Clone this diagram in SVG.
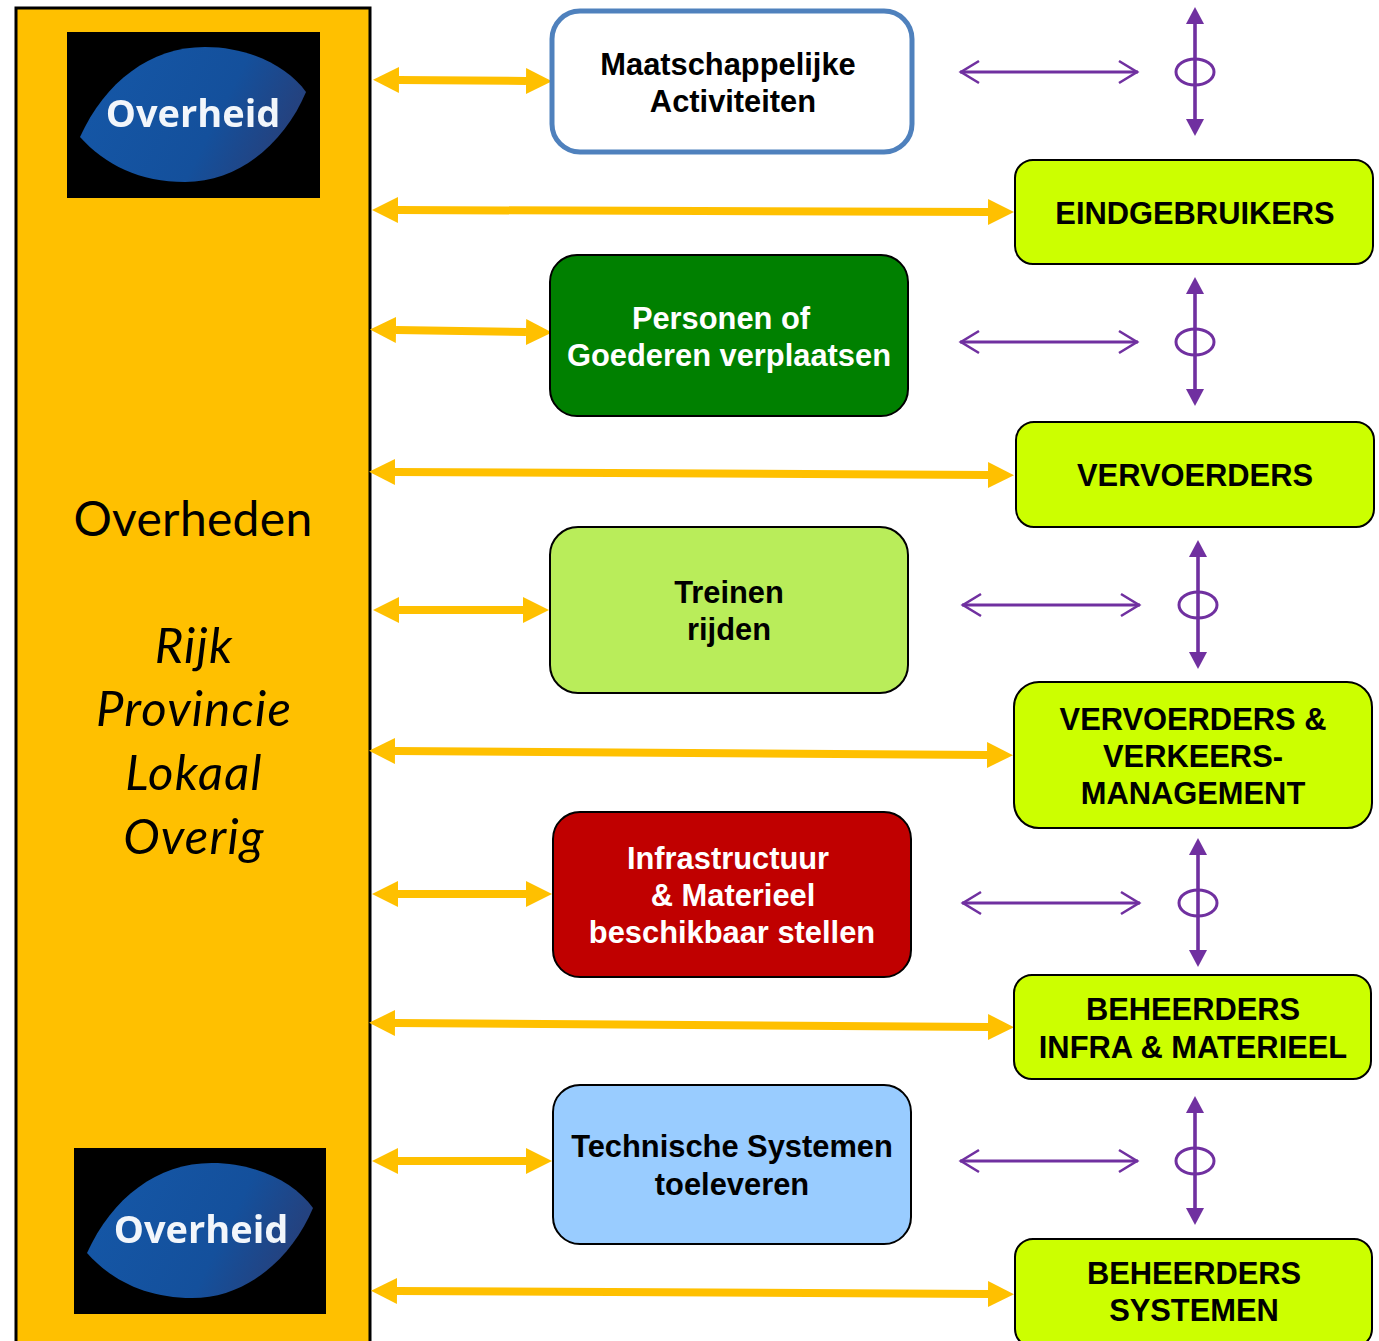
<svg xmlns="http://www.w3.org/2000/svg" width="1379" height="1341" viewBox="0 0 1379 1341">
<style>
.b{font-family:"Liberation Sans",Arial,sans-serif;font-weight:700;font-size:30.85px;text-anchor:middle;fill:#000}
.w{fill:#fff}
.g{fill:#ccff00;stroke:#000;stroke-width:2}
.o{stroke:#ffc000;stroke-width:8;fill:none;marker-start:url(#oh);marker-end:url(#oh)}
.p{stroke:#7030a0;stroke-width:3;fill:none}
.h{marker-start:url(#po);marker-end:url(#po)}
.v{stroke-width:3.6;marker-start:url(#pf);marker-end:url(#pf)}
.c{font-family:Lato,"Open Sans",sans-serif;font-size:48px;letter-spacing:.3px;text-anchor:middle;fill:#000}
.i{font-style:italic;font-size:49px;letter-spacing:1.2px}
.l{font-family:"Open Sans","Noto Sans",sans-serif;font-weight:700;font-size:38px;text-anchor:middle;fill:#f2f6fb;filter:url(#soft)}
</style>
<defs>
<filter id="soft" x="-5%" y="-10%" width="110%" height="120%"><feGaussianBlur stdDeviation="0.7"/></filter>
<marker id="oh" markerUnits="userSpaceOnUse" markerWidth="27" markerHeight="28" refX="0" refY="14" orient="auto-start-reverse"><path d="M0 1L26 14L0 27Z" fill="#ffc000"/></marker>
<marker id="po" markerUnits="userSpaceOnUse" markerWidth="24" markerHeight="28" refX="20" refY="14" orient="auto-start-reverse"><path d="M1 3L19 14L1 25" fill="none" stroke="#7030a0" stroke-width="2.6"/></marker>
<marker id="pf" markerUnits="userSpaceOnUse" markerWidth="19" markerHeight="20" refX="0" refY="9" orient="auto-start-reverse"><path d="M0 0L17 9L0 18Z" fill="#7030a0"/></marker>
<linearGradient id="lg" x1="0" y1="0" x2="1" y2="0.3"><stop offset="0" stop-color="#1558a8"/><stop offset="0.7" stop-color="#14509c"/><stop offset="1" stop-color="#24427f"/></linearGradient>
<path id="leaf" d="M0 90C25 35 70 0 125 0C170 0 208 20 226 45C205 95 160 135 105 135C60 135 25 118 0 90Z" fill="url(#lg)"/>
</defs>
<rect width="1379" height="1341" fill="#fff"/>
<g id="overheden">
<path d="M16 1345V8H370V1345" fill="#ffc000" stroke="#000" stroke-width="3"/>
<text class="c" x="193" y="536">Overheden</text>
<text class="c i" x="194" y="663">Rijk</text>
<text class="c i" x="194" y="726">Provincie</text>
<text class="c i" x="194" y="790">Lokaal</text>
<text class="c i" x="194" y="854">Overig</text>
</g>
<g id="logo-top">
<rect x="67" y="32" width="253" height="166" fill="#000"/>
<use href="#leaf" x="80" y="47"/>
<text class="l" x="193" y="127">Overheid</text>
</g>
<g id="logo-bottom">
<rect x="74" y="1148" width="252" height="166" fill="#000"/>
<use href="#leaf" x="87" y="1163"/>
<text class="l" x="201" y="1243">Overheid</text>
</g>
<g id="connectors">
<line class="o" x1="399" y1="80" x2="526" y2="81"/>
<line class="o" x1="398" y1="210" x2="988" y2="212"/>
<line class="o" x1="396" y1="330" x2="526" y2="332"/>
<line class="o" x1="395" y1="472" x2="988" y2="475"/>
<line class="o" x1="399" y1="610" x2="523" y2="610"/>
<line class="o" x1="395" y1="751" x2="987" y2="755"/>
<line class="o" x1="398" y1="894" x2="526" y2="894"/>
<line class="o" x1="395" y1="1023" x2="988" y2="1027"/>
<line class="o" x1="398" y1="1161" x2="526" y2="1161"/>
<line class="o" x1="397" y1="1291" x2="988" y2="1294"/>
<line class="p h" x1="960" y1="72" x2="1138" y2="72"/>
<line class="p h" x1="960" y1="342" x2="1138" y2="342"/>
<line class="p h" x1="962" y1="605" x2="1140" y2="605"/>
<line class="p h" x1="962" y1="903" x2="1140" y2="903"/>
<line class="p h" x1="960" y1="1161" x2="1138" y2="1161"/>
<g class="p">
<line class="v" x1="1195" y1="24" x2="1195" y2="119"/><ellipse cx="1195" cy="72" rx="19" ry="13"/>
<line class="v" x1="1195" y1="294" x2="1195" y2="389"/><ellipse cx="1195" cy="342" rx="19" ry="13"/>
<line class="v" x1="1198" y1="557" x2="1198" y2="652"/><ellipse cx="1198" cy="605" rx="19" ry="13"/>
<line class="v" x1="1198" y1="855" x2="1198" y2="950"/><ellipse cx="1198" cy="903" rx="19" ry="13"/>
<line class="v" x1="1195" y1="1113" x2="1195" y2="1208"/><ellipse cx="1195" cy="1161" rx="19" ry="13"/>
</g>
</g>
<g id="maatschappelijke">
<rect x="552" y="11" width="360" height="141" rx="28" fill="#fff" stroke="#4f81bd" stroke-width="5"/>
<text class="b" x="728" y="75">Maatschappelijke</text><text class="b" x="733" y="112">Activiteiten</text>
</g>
<g id="personen">
<rect x="550" y="255" width="358" height="161" rx="27" fill="#008000" stroke="#000" stroke-width="2"/>
<text class="b w" x="721" y="329">Personen of</text><text class="b w" x="729" y="366">Goederen verplaatsen</text>
</g>
<g id="treinen">
<rect x="550" y="527" width="358" height="166" rx="28" fill="#b9ed5a" stroke="#000" stroke-width="2"/>
<text class="b" x="729" y="603">Treinen</text><text class="b" x="729" y="640">rijden</text>
</g>
<g id="infra">
<rect x="553" y="812" width="358" height="165" rx="27" fill="#c00000" stroke="#000" stroke-width="2"/>
<text class="b w" x="728" y="869">Infrastructuur</text><text class="b w" x="733" y="906">&amp; Materieel</text><text class="b w" x="732" y="943">beschikbaar stellen</text>
</g>
<g id="technisch">
<rect x="553" y="1085" width="358" height="159" rx="27" fill="#99ccff" stroke="#000" stroke-width="2"/>
<text class="b" x="732" y="1157">Technische Systemen</text><text class="b" x="732" y="1195">toeleveren</text>
</g>
<g id="eindgebruikers">
<rect class="g" x="1015" y="160" width="358" height="104" rx="18"/>
<text class="b" x="1195" y="224">EINDGEBRUIKERS</text>
</g>
<g id="vervoerders">
<rect class="g" x="1016" y="422" width="358" height="105" rx="18"/>
<text class="b" x="1195" y="486">VERVOERDERS</text>
</g>
<g id="vervoerders-vm">
<rect class="g" x="1014" y="682" width="358" height="146" rx="25"/>
<text class="b" x="1193" y="730">VERVOERDERS &amp;</text><text class="b" x="1193" y="767">VERKEERS-</text><text class="b" x="1193" y="804">MANAGEMENT</text>
</g>
<g id="beheerders-infra">
<rect class="g" x="1014" y="975" width="357" height="104" rx="18"/>
<text class="b" x="1193" y="1020">BEHEERDERS</text><text class="b" x="1193" y="1058">INFRA &amp; MATERIEEL</text>
</g>
<g id="beheerders-systemen">
<rect class="g" x="1015" y="1239" width="357" height="108" rx="18"/>
<text class="b" x="1194" y="1284">BEHEERDERS</text><text class="b" x="1194" y="1321">SYSTEMEN</text>
</g>
</svg>
